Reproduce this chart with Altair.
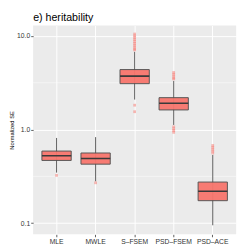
import altair as alt
import pandas as pd

categories = ["MLE", "MWLE", "S–FSEM", "PSD–FSEM", "PSD–ACE"]
lower_whisker = [0.347, 0.28, 2.09, 1.12, 0.095]
q1 = [0.468, 0.427, 3.09, 1.62, 0.174]
median = [0.525, 0.49, 3.72, 1.905, 0.219]
q3 = [0.589, 0.562, 4.37, 2.19, 0.275]
upper_whisker = [0.813, 0.83, 6.76, 3.31, 0.537]

outlier_cat = (["MLE"] + ["MWLE"]
               + ["S–FSEM"] * 12
               + ["PSD–FSEM"] * 9
               + ["PSD–ACE"] * 5)
outlier_val = ([0.324] + [0.27]
               + [10.47, 10.0, 9.55, 9.12, 8.71, 8.32, 7.94, 7.59, 7.24, 7.08, 1.82, 1.55]
               + [4.07, 3.89, 3.72, 3.55, 3.47, 1.07, 1.02, 0.977, 0.933]
               + [0.676, 0.646, 0.617, 0.589, 0.562])

major_ticks = [0.1, 1.0, 10.0]
minor_grid = [0.316, 3.16]
y_domain = [0.076, 12.9]

box_df = pd.DataFrame({"cat": categories, "lw": lower_whisker, "q1": q1,
                       "med": median, "q3": q3, "uw": upper_whisker})
out_df = pd.DataFrame({"cat": outlier_cat, "val": outlier_val})
grid_df = pd.DataFrame({"g": minor_grid})

FONT = "Liberation Sans"

xenc = alt.X("cat:N", sort=categories,
             scale=alt.Scale(paddingInner=0.25, paddingOuter=0.225),
             axis=alt.Axis(title=None, labelAngle=0, bandPosition=0.5, grid=True))
yscale = alt.Scale(type="log", domain=y_domain, nice=False)
yaxis = alt.Axis(title="Normalized SE", values=major_ticks, format=".1f", grid=True)

grid = alt.Chart(grid_df).mark_rule(color="white", strokeWidth=0.5).encode(
    y=alt.Y("g:Q", scale=yscale, axis=yaxis))

whisk = alt.Chart(box_df).mark_rule(color="#5a5a5a", strokeWidth=1).encode(
    x=xenc, y=alt.Y("lw:Q", scale=yscale, axis=yaxis), y2="uw:Q")

box = alt.Chart(box_df).mark_bar(fill="#F8766D", stroke="#4d4d4d",
                                 strokeWidth=1, opacity=0.95).encode(
    x=xenc, y=alt.Y("q1:Q", scale=yscale, axis=yaxis), y2="q3:Q")

med = alt.Chart(box_df).mark_rect(stroke="#3a3a3a", strokeWidth=1.6, fill="#3a3a3a").encode(
    x=xenc, y=alt.Y("med:Q", scale=yscale, axis=yaxis), y2="med:Q")

pts = alt.Chart(out_df).mark_point(filled=True, color="#F8766D", opacity=0.5,
                                   size=8, shape="square").encode(
    x=xenc, y=alt.Y("val:Q", scale=yscale, axis=yaxis))

chart = alt.layer(grid, whisk, box, med, pts).properties(
    width=241, height=241,
    autosize=alt.AutoSizeParams(type="fit", contains="padding"),
    padding={"left": 0, "top": 0, "right": 4, "bottom": 0},
    title=alt.TitleParams("e) heritability", anchor="start", frame="group",
                          fontSize=11, font=FONT, fontWeight="normal",
                          color="black", offset=3),
).configure_view(fill="#EBEBEB", strokeWidth=0).configure_axis(
    gridColor="white", gridWidth=1, domain=False,
    tickColor="#333333", tickSize=2.5, tickWidth=0.8,
    labelColor="#333333", labelFontSize=7, labelFont=FONT, labelPadding=1,
    titleFont=FONT, titleFontSize=6, titleFontWeight="normal", titleColor="black",
    titlePadding=2,
)

chart.save("out.html", embed_options={"renderer": "svg", "actions": False})
